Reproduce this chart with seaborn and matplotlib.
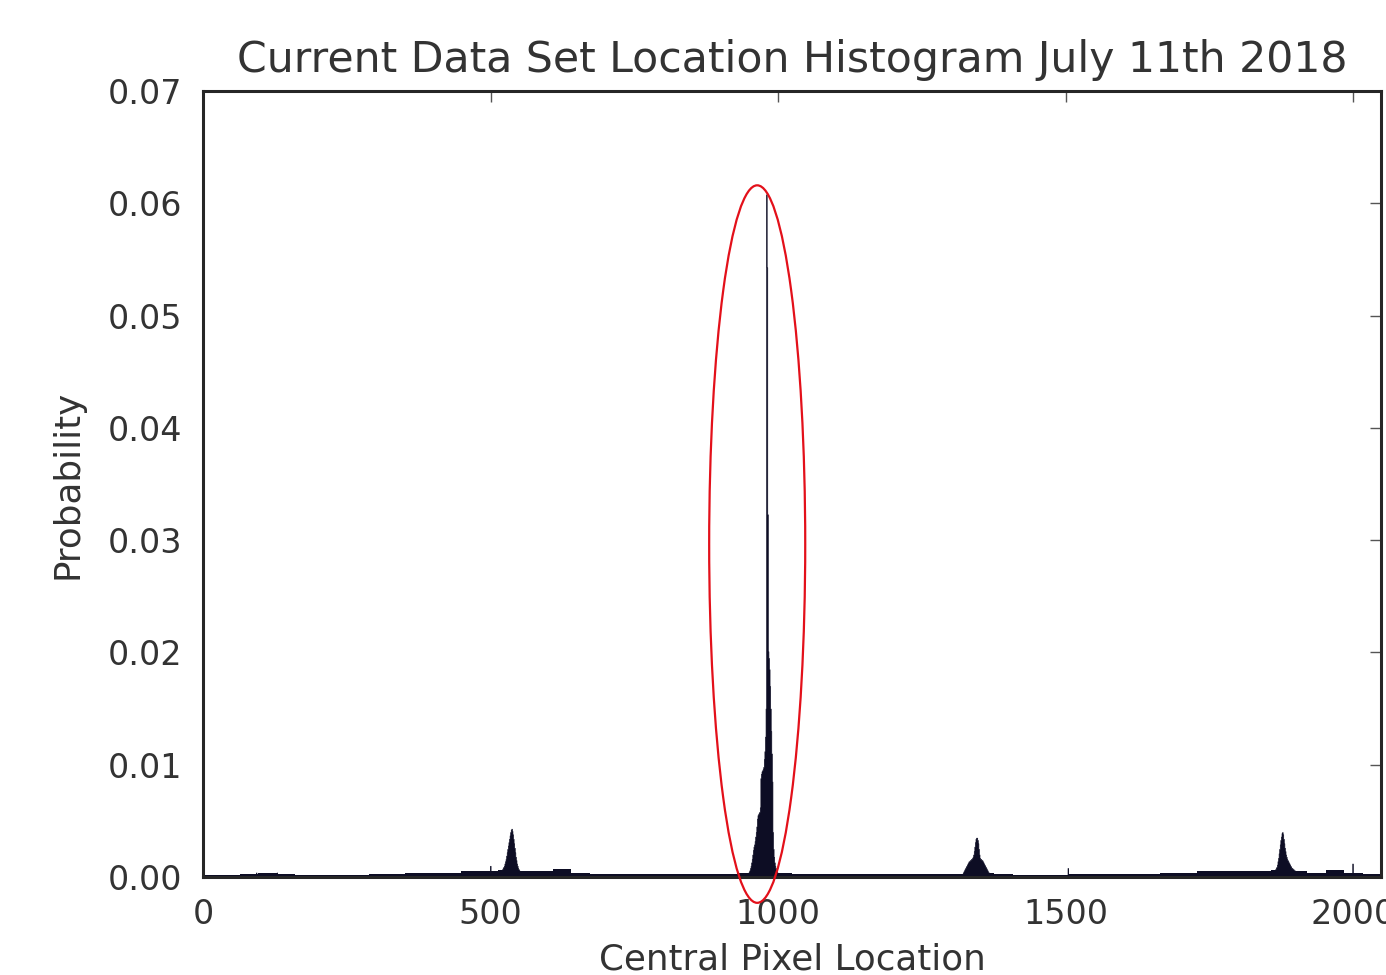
import numpy as np
import pandas as pd
import matplotlib
matplotlib.use("Agg")
import matplotlib.pyplot as plt
from matplotlib.patches import Ellipse
from matplotlib.ticker import FormatStrFormatter
import seaborn as sns

# ---------------------------------------------------------------------------
# Data: histogram of central pixel locations (probability per 1-px bin)
# ---------------------------------------------------------------------------
# main peak near pixel 979, one probability per pixel starting at 948
central_start = 948
central_probs = [
    0.0004, 0.0005, 0.0006, 0.0008, 0.0010, 0.0013, 0.0016, 0.0020, 0.0024,
    0.0027, 0.0029, 0.0032, 0.0036, 0.0040, 0.0045, 0.0052, 0.0055, 0.0056,
    0.0057, 0.0058, 0.0062, 0.0088, 0.0092, 0.0094, 0.0095, 0.0096, 0.0098,
    0.0105, 0.0112, 0.0125, 0.0150, 0.0608, 0.0543, 0.0323, 0.0201, 0.0195,
    0.0185, 0.0170, 0.0150, 0.0130, 0.0110, 0.0085, 0.0040, 0.0025, 0.0018,
    0.0013, 0.0010, 0.0008, 0.0006, 0.0005, 0.0004,
]

# secondary peak near pixel 536
left_start = 514
left_probs = [
    0.0003, 0.0004, 0.0004, 0.0005, 0.0005, 0.0006, 0.0007, 0.0008, 0.0009,
    0.0010, 0.0012, 0.0014, 0.0016, 0.0019, 0.0022, 0.0025, 0.0028, 0.0031,
    0.0034, 0.0037, 0.0040, 0.0042, 0.0043, 0.0041, 0.0038, 0.0034, 0.0030,
    0.0026, 0.0022, 0.0018, 0.0015, 0.0012, 0.0010, 0.0008, 0.0007, 0.0006,
    0.0005, 0.0005, 0.0004, 0.0004, 0.0003,
]

# secondary peak near pixel 1345
mid_start = 1320
mid_probs = [
    0.0003, 0.0004, 0.0005, 0.0006, 0.0007, 0.0008, 0.0009, 0.0010, 0.0011,
    0.0012, 0.0013, 0.0014, 0.0014, 0.0015, 0.0015, 0.0016, 0.0016, 0.0017,
    0.0018, 0.0020, 0.0023, 0.0027, 0.0031, 0.0034, 0.0035, 0.0035, 0.0033,
    0.0030, 0.0025, 0.0020, 0.0017, 0.0016, 0.0016, 0.0015, 0.0015, 0.0014,
    0.0013, 0.0012, 0.0011, 0.0010, 0.0009, 0.0008, 0.0007, 0.0006, 0.0005,
    0.0004, 0.0004, 0.0003,
]

# secondary peak near pixel 1876
right_start = 1860
right_probs = [
    0.0004, 0.0005, 0.0005, 0.0006, 0.0007, 0.0008, 0.0009, 0.0011, 0.0014,
    0.0017, 0.0021, 0.0025, 0.0029, 0.0033, 0.0036, 0.0039, 0.0040, 0.0038,
    0.0034, 0.0030, 0.0026, 0.0023, 0.0020, 0.0018, 0.0016, 0.0015, 0.0014,
    0.0013, 0.0012, 0.0011, 0.0010, 0.0009, 0.0008, 0.0008, 0.0007, 0.0007,
    0.0006, 0.0006, 0.0005, 0.0005, 0.0005, 0.0004, 0.0004, 0.0004,
]

# isolated single-pixel spikes
spike_locations = [92, 128, 499, 1503, 1998]
spike_probs = [0.0004, 0.0004, 0.0010, 0.0008, 0.0012]

# low background level, one value per 32-px block
baseline_probs = [
    0.0002, 0.0002, 0.0003, 0.0004, 0.0003, 0.0002, 0.0002, 0.0002,
    0.0002, 0.0003, 0.0003, 0.0004, 0.0004, 0.0004, 0.0005, 0.0005,
    0.0006, 0.0005, 0.0005, 0.0007, 0.0004, 0.0003, 0.0003, 0.0003,
    0.0003, 0.0003, 0.0003, 0.0003, 0.0003, 0.0004, 0.0006, 0.0004,
    0.0003, 0.0003, 0.0003, 0.0003, 0.0003, 0.0003, 0.0003, 0.0003,
    0.0003, 0.0003, 0.0004, 0.0003, 0.0002, 0.0002, 0.0002, 0.0003,
    0.0003, 0.0003, 0.0003, 0.0003, 0.0004, 0.0004, 0.0005, 0.0005,
    0.0005, 0.0005, 0.0006, 0.0005, 0.0004, 0.0006, 0.0004, 0.0003,
]

x_ticks = [0, 500, 1000, 1500, 2000]
y_ticks = [0.00, 0.01, 0.02, 0.03, 0.04, 0.05, 0.06, 0.07]
n_pixels = 2048
block = 32

title = "Current Data Set Location Histogram July 11th 2018"
xlabel = "Central Pixel Location"
ylabel = "Probability"

# ---------------------------------------------------------------------------
# Assemble tables
# ---------------------------------------------------------------------------
windows = [
    (central_start, central_probs),
    (left_start, left_probs),
    (mid_start, mid_probs),
    (right_start, right_probs),
]
fine = pd.DataFrame({
    "location": np.concatenate(
        [np.arange(s, s + len(p)) for s, p in windows] + [np.array(spike_locations)]
    ),
    "probability": np.concatenate(
        [np.array(p) for _, p in windows] + [np.array(spike_probs)]
    ),
})
coarse = pd.DataFrame({
    "location": np.arange(0, n_pixels, block),
    "probability": baseline_probs,
})

# ---------------------------------------------------------------------------
# Figure
# ---------------------------------------------------------------------------
sns.set_style("white")
plt.rcParams["font.family"] = ["DejaVu Sans"]

TEXT = "#333333"
SPINE = "#262626"
BAR = "#0d0d24"

fig = plt.figure(figsize=(13.86, 9.75), dpi=100)
ax = fig.add_axes([203 / 1386, 1 - 877 / 975, (1381 - 203) / 1386, (877 - 91) / 975])

coarse_edges = list(range(0, n_pixels + 1, block))
fine_edges = list(range(0, n_pixels + 1, 1))

sns.histplot(data=coarse, x="location", weights="probability",
             bins=coarse_edges, element="step", fill=True,
             color=BAR, alpha=1, linewidth=0, ax=ax)
sns.histplot(data=fine, x="location", weights="probability",
             bins=fine_edges, element="step", fill=True,
             color=BAR, alpha=1, edgecolor=BAR, linewidth=0.45, ax=ax)

ax.set_xlim(0, n_pixels)
ax.set_ylim(0, 0.07)
ax.set_xticks(x_ticks)
ax.set_yticks(y_ticks)
ax.yaxis.set_major_formatter(FormatStrFormatter("%.2f"))

for side in ["left", "right", "top", "bottom"]:
    ax.spines[side].set_visible(True)
    ax.spines[side].set_color(SPINE)
    ax.spines[side].set_linewidth(2.2)
    ax.spines[side].set_zorder(6)

ax.tick_params(axis="both", which="major", direction="in", top=True, right=True,
               length=8, width=1.0, color="#555555", pad=15,
               labelsize=24, labelcolor=TEXT)

ax.set_title(title, fontsize=30.7, color=TEXT, pad=13.7)
ax.set_xlabel(xlabel, fontsize=25.7, color=TEXT)
ax.set_ylabel(ylabel, fontsize=25.7, color=TEXT)
ax.xaxis.set_label_coords(0.5, -0.083)
ax.yaxis.set_label_coords(-0.1005, 0.5)

# highlight around the dominant location
ax.add_patch(Ellipse((963.5, 0.02965), 167, 0.0639, fill=False,
                     edgecolor="#e3101a", linewidth=1.6, clip_on=False, zorder=7))

fig.savefig("out.png", dpi=100)
